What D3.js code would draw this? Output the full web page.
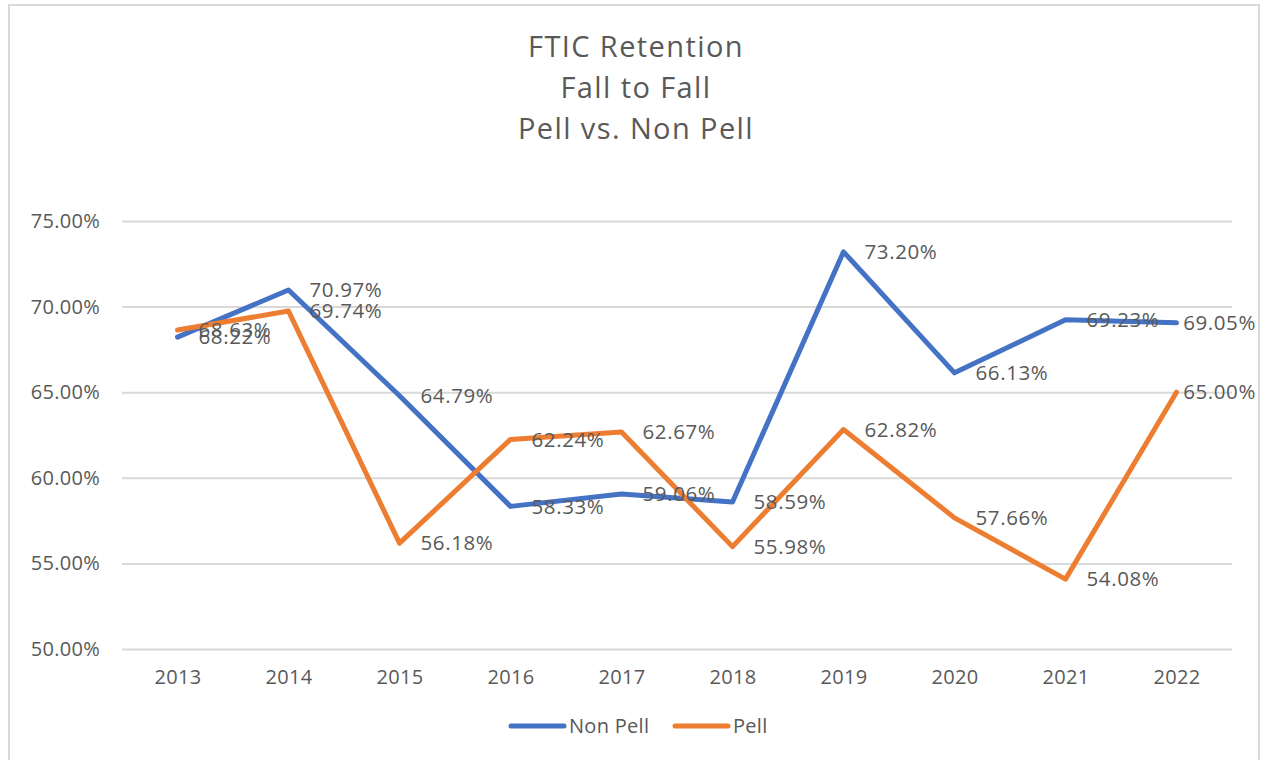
<!DOCTYPE html>
<html>
<head>
<meta charset="utf-8">
<script src="https://cdn.jsdelivr.net/npm/d3@7"></script>
<style>
  body { margin: 0; background: #fff; }
  text { font-family: "Open Sans", sans-serif; fill: #595959; }
</style>
</head>
<body>
<svg id="chart"></svg>
<script>
// Chart data
const years = ["2013", "2014", "2015", "2016", "2017", "2018", "2019", "2020", "2021", "2022"];
const nonPell = [68.22, 70.97, 64.79, 58.33, 59.06, 58.59, 73.20, 66.13, 69.23, 69.05];
const pell = [68.63, 69.74, 56.18, 62.24, 62.67, 55.98, 62.82, 57.66, 54.08, 65.00];
const yTicks = [50, 55, 60, 65, 70, 75];
const titleLines = ["FTIC Retention", "Fall to Fall", "Pell vs. Non Pell"];

const series = [
    { name: "Non Pell", values: nonPell, color: "#4472C4" },
    { name: "Pell", values: pell, color: "#ED7D31" }
];

const W = 1261, H = 760;
const svg = d3.select("#chart").attr("width", W).attr("height", H);

// outer chart border
svg.append("rect")
    .attr("x", 9).attr("y", 5)
    .attr("width", W - 11).attr("height", H + 20)
    .attr("fill", "#fff")
    .attr("stroke", "#d9d9d9")
    .attr("stroke-width", 2);

// scales
const x = d3.scalePoint().domain(years).range([122, 1232]).padding(0.5);
const y = d3.scaleLinear().domain([50, 75]).range([649, 221]);

// title
svg.append("text")
    .attr("text-anchor", "middle")
    .style("font-size", "29px")
    .style("letter-spacing", "1.4px")
    .selectAll("tspan")
    .data(titleLines)
    .enter().append("tspan")
    .attr("x", 636)
    .attr("y", (d, i) => 57 + i * 41)
    .text(d => d);

// gridlines
svg.append("g")
    .attr("transform", "translate(122,0)")
    .call(d3.axisLeft(y).tickValues(yTicks).tickSize(-1110).tickFormat(""))
    .call(g => g.select(".domain").remove())
    .call(g => g.selectAll(".tick line").attr("stroke", "#d9d9d9").attr("stroke-width", 2));

// y axis labels
svg.append("g")
    .attr("transform", "translate(100,0)")
    .call(d3.axisLeft(y).tickValues(yTicks).tickSize(0).tickPadding(0).tickFormat(d => d.toFixed(2) + "%"))
    .call(g => g.select(".domain").remove())
    .call(g => g.selectAll("text").style("font-size", "20px").style("letter-spacing", "0.3px").attr("fill", "#595959"));

// x axis labels
svg.append("g")
    .attr("transform", "translate(0,649)")
    .call(d3.axisBottom(x).tickSize(0).tickPadding(21))
    .call(g => g.select(".domain").remove())
    .call(g => g.selectAll("text").style("font-size", "20px").style("letter-spacing", "0.3px").attr("fill", "#595959"));

// lines
const line = d3.line()
    .x((d, i) => x(years[i]))
    .y(d => y(d));

svg.selectAll(".series")
    .data(series)
    .enter().append("path")
    .attr("class", "series")
    .attr("d", d => line(d.values))
    .attr("fill", "none")
    .attr("stroke", d => d.color)
    .attr("stroke-width", 5)
    .attr("stroke-linejoin", "round")
    .attr("stroke-linecap", "round");

// data labels, placed right of each point, kept inside the chart
series.forEach(s => {
    svg.append("g").selectAll("text")
        .data(s.values)
        .enter().append("text")
        .style("font-size", "20.5px")
        .style("letter-spacing", "0.6px")
        .attr("dy", "0.35em")
        .attr("y", d => y(d))
        .text(d => d.toFixed(2) + "%")
        .attr("x", function(d, i) {
            const w = this.getComputedTextLength();
            return Math.min(x(years[i]) + 21, 1256 - w);
        });
});

// legend
const legend = svg.append("g").selectAll("g")
    .data(series)
    .enter().append("g")
    .attr("transform", (d, i) => `translate(${i === 0 ? 509 : 673},726)`);

legend.append("line")
    .attr("x1", 2).attr("x2", 55)
    .attr("stroke", d => d.color)
    .attr("stroke-width", 5)
    .attr("stroke-linecap", "round");

legend.append("text")
    .attr("x", 60)
    .attr("dy", "0.35em")
    .style("font-size", "20px")
    .style("letter-spacing", "0.3px")
    .text(d => d.name);
</script>
</body>
</html>
